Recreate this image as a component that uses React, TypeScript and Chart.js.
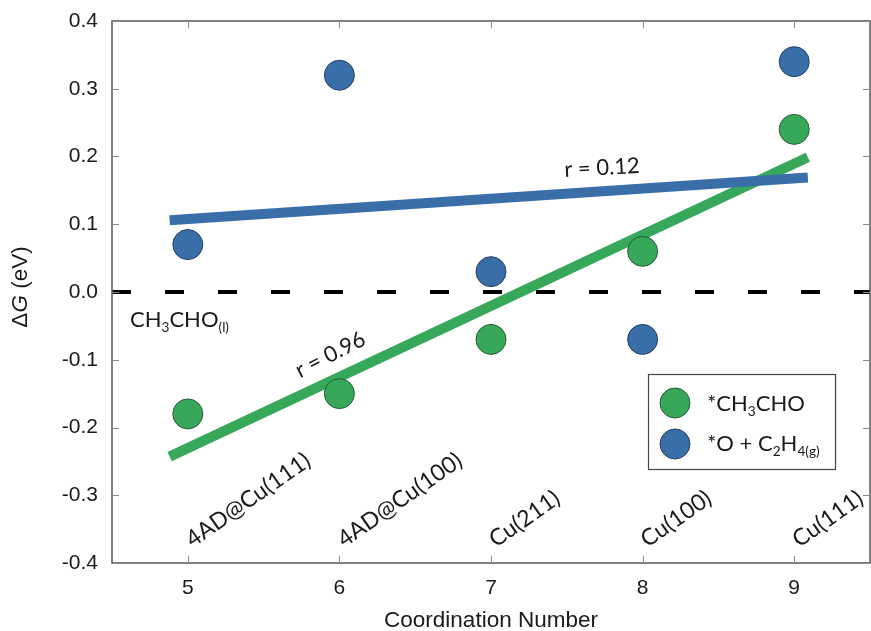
import React, { useEffect, useRef } from "react";
import { Chart, registerables } from "chart.js";
Chart.register(...registerables);

// ---- data ----
const coordination = [5, 6, 7, 8, 9];
const surfaceLabels = ["4AD@Cu(111)", "4AD@Cu(100)", "Cu(211)", "Cu(100)", "Cu(111)"];
const ch3choValues = [-0.18, -0.15, -0.07, 0.06, 0.24];
const oC2h4Values = [0.07, 0.32, 0.03, -0.07, 0.34];
const fitX = [4.88, 9.09];
const ch3choFit = [-0.243, 0.199];
const oC2h4Fit = [0.106, 0.169];
const zeroX = [4.5, 9.5];
const zeroY = [0, 0];
const xTicks = [5, 6, 7, 8, 9];
const yTicks = [-0.4, -0.3, -0.2, -0.1, 0, 0.1, 0.2, 0.3, 0.4];
const ch3choR = "r = 0.96";
const oC2h4R = "r = 0.12";

const GREEN = "#37a759";
const GREEN_EDGE = "#2a5b36";
const BLUE = "#3a6ea9";
const BLUE_EDGE = "#253f63";
const SANS = "'Liberation Sans', Arial, sans-serif";
const CAL = "Lato, 'Open Sans', sans-serif";

type Run = [string, "n" | "sub" | "it"];

function drawRuns(
  ctx: CanvasRenderingContext2D,
  runs: Run[],
  x: number,
  y: number,
  size: number,
  family: string,
  angle = 0,
  align: "left" | "center" = "left",
  middle = false,
  color = "#1a1a1a"
) {
  ctx.save();
  ctx.translate(x, y);
  ctx.rotate(angle);
  ctx.fillStyle = color;
  ctx.textBaseline = "alphabetic";
  ctx.textAlign = "left";
  const fontOf = (r: Run) =>
    r[1] === "sub" ? `${size * 0.62}px ${family}` : r[1] === "it" ? `italic ${size}px ${family}` : `${size}px ${family}`;
  let total = 0;
  const widths = runs.map((r) => {
    ctx.font = fontOf(r);
    const w = ctx.measureText(r[0]).width;
    total += w;
    return w;
  });
  let cx = align === "center" ? -total / 2 : 0;
  const by = middle ? size * 0.36 : 0;
  runs.forEach((r, i) => {
    ctx.font = fontOf(r);
    ctx.fillText(r[0], cx, by + (r[1] === "sub" ? size * 0.24 : 0));
    cx += widths[i];
  });
  ctx.restore();
}

const decorPlugin = {
  id: "decor",
  afterDatasetsDraw(chart: any) {
    const ctx: CanvasRenderingContext2D = chart.ctx;
    const { left, right, top, bottom } = chart.chartArea;
    const xs = chart.scales.x;
    const ys = chart.scales.y;

    // frame + inward ticks
    ctx.save();
    ctx.strokeStyle = "#555";
    ctx.lineWidth = 1.5;
    ctx.strokeRect(left, top, right - left, bottom - top);
    ctx.lineWidth = 1;
    ctx.strokeStyle = "#888";
    ctx.beginPath();
    xTicks.forEach((v) => {
      const px = Math.round(xs.getPixelForValue(v)) + 0.5;
      ctx.moveTo(px, bottom);
      ctx.lineTo(px, bottom - 7);
      ctx.moveTo(px, top);
      ctx.lineTo(px, top + 7);
    });
    yTicks.forEach((v) => {
      const py = Math.round(ys.getPixelForValue(v)) + 0.5;
      ctx.moveTo(left, py);
      ctx.lineTo(left + 7, py);
      ctx.moveTo(right, py);
      ctx.lineTo(right - 7, py);
    });
    ctx.stroke();
    ctx.restore();

    // surface labels
    coordination.forEach((c, i) => {
      const px = xs.getPixelForValue(c);
      drawRuns(ctx, [[surfaceLabels[i], "n"]], px + 5, bottom - 15, 23, CAL, (-35 * Math.PI) / 180);
    });

    // CH3CHO(l)
    drawRuns(
      ctx,
      [["CH", "n"], ["3", "sub"], ["CHO", "n"], ["(l)", "sub"]],
      left + 18,
      ys.getPixelForValue(0) + 35,
      22,
      CAL
    );

    // r labels
    drawRuns(ctx, [[ch3choR, "n"]], 330, 354, 22, CAL, (-27 * Math.PI) / 180, "center", true);
    drawRuns(ctx, [[oC2h4R, "n"]], 602, 167, 22, CAL, (-3 * Math.PI) / 180, "center", true);

    // axis titles
    ctx.save();
    ctx.fillStyle = "#1a1a1a";
    ctx.font = `22.5px ${SANS}`;
    ctx.textAlign = "center";
    ctx.textBaseline = "middle";
    ctx.fillText("Coordination Number", (left + right) / 2, 621);
    ctx.restore();
    drawRuns(
      ctx,
      [["Δ", "n"], ["G", "it"], [" (eV)", "n"]],
      19,
      287,
      22.5,
      SANS,
      -Math.PI / 2,
      "center",
      true
    );

    // legend
    ctx.save();
    ctx.fillStyle = "#fff";
    ctx.fillRect(648, 374, 187, 95);
    ctx.strokeStyle = "#444";
    ctx.lineWidth = 1.2;
    ctx.strokeRect(648.5, 374.5, 187, 95);
    const entries: [string, string, number][] = [
      [GREEN, GREEN_EDGE, 403],
      [BLUE, BLUE_EDGE, 444],
    ];
    entries.forEach(([f, e, cy]) => {
      ctx.beginPath();
      ctx.arc(675, cy, 15, 0, Math.PI * 2);
      ctx.fillStyle = f;
      ctx.fill();
      ctx.strokeStyle = e;
      ctx.lineWidth = 1;
      ctx.stroke();
    });
    ctx.restore();
    drawRuns(ctx, [["*CH", "n"], ["3", "sub"], ["CHO", "n"]], 707, 411, 22, CAL);
    drawRuns(ctx, [["*O + C", "n"], ["2", "sub"], ["H", "n"], ["4(g)", "sub"]], 707, 451, 22, CAL);
  },
};

export default function App() {
  const ref = useRef<HTMLCanvasElement>(null);
  useEffect(() => {
    if (!ref.current) return;
    const pts = (xv: number[], yv: number[]) => xv.map((x, i) => ({ x, y: yv[i] }));
    const chart = new Chart(ref.current, {
      type: "scatter",
      data: {
        datasets: [
          {
            label: "*CH3CHO",
            data: pts(coordination, ch3choValues),
            backgroundColor: GREEN,
            borderColor: GREEN_EDGE,
            borderWidth: 1,
            pointRadius: 15,
            order: 1,
          },
          {
            label: "*O + C2H4(g)",
            data: pts(coordination, oC2h4Values),
            backgroundColor: BLUE,
            borderColor: BLUE_EDGE,
            borderWidth: 1,
            pointRadius: 15,
            order: 1,
          },
          {
            label: "blue fit",
            data: pts(fitX, oC2h4Fit),
            showLine: true,
            borderColor: BLUE,
            borderWidth: 10,
            pointRadius: 0,
            borderCapStyle: "butt",
            order: 2,
          },
          {
            label: "green fit",
            data: pts(fitX, ch3choFit),
            showLine: true,
            borderColor: GREEN,
            borderWidth: 10,
            pointRadius: 0,
            borderCapStyle: "butt",
            order: 3,
          },
          {
            label: "zero",
            data: pts(zeroX, zeroY),
            showLine: true,
            borderColor: "#000",
            borderWidth: 4,
            borderDash: [19, 34],
            pointRadius: 0,
            order: 4,
          },
        ] as any,
      },
      options: {
        animation: false,
        responsive: false,
        layout: { padding: { top: 21, right: 1, left: 0, bottom: 0 } },
        plugins: { legend: { display: false }, tooltip: { enabled: false } },
        scales: {
          x: {
            type: "linear",
            min: 4.5,
            max: 9.5,
            afterBuildTicks: (s: any) => {
              s.ticks = xTicks.map((v) => ({ value: v }));
            },
            afterFit: (s: any) => {
              s.height = 68;
              s.paddingLeft = 0;
              s.paddingRight = 0;
            },
            grid: { display: false, drawTicks: false },
            border: { display: false },
            ticks: {
              padding: 13,
              color: "#1a1a1a",
              font: { family: SANS, size: 21 },
              callback: (v: any) => String(v),
            },
          },
          y: {
            type: "linear",
            min: -0.4,
            max: 0.4,
            afterBuildTicks: (s: any) => {
              s.ticks = yTicks.map((v) => ({ value: v }));
            },
            afterFit: (s: any) => {
              s.width = 112;
              s.paddingTop = 0;
              s.paddingBottom = 0;
            },
            grid: { display: false, drawTicks: false },
            border: { display: false },
            ticks: {
              padding: 14,
              color: "#1a1a1a",
              font: { family: SANS, size: 21 },
              callback: (v: any) => Number(v).toFixed(1),
            },
          },
        },
      } as any,
      plugins: [
        decorPlugin,
        {
          id: "areaFix",
          afterLayout(chart: any) {
            const ca = chart.chartArea;
            ca.right = 870;
            ca.width = ca.right - ca.left;
            const xs = chart.scales.x;
            xs.right = 870;
            xs.width = xs.right - xs.left;
            xs.configure();
          },
        },
      ],
    });
    return () => chart.destroy();
  }, []);
  return (
    <div style={{ position: "fixed", left: 0, top: 0, width: 871, height: 631, background: "#fff" }}>
      <canvas ref={ref} width={871} height={631} style={{ width: 871, height: 631 }} />
    </div>
  );
}
